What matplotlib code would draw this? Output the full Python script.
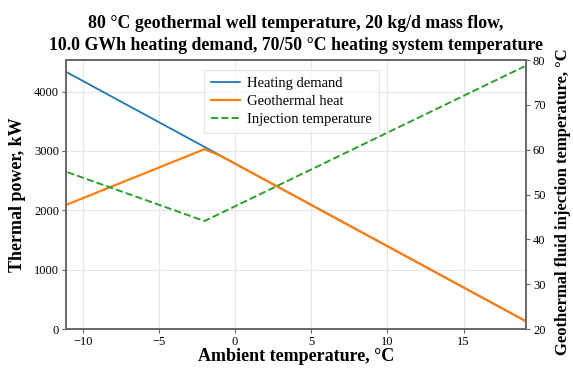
import matplotlib
matplotlib.use("Agg")
import matplotlib.pyplot as plt

plt.rcParams['font.family'] = ['Liberation Serif', 'DejaVu Serif']

# ambient temperature breakpoints, degC
demand_t = [-11, 19]
demand_kw = [4320, 145]
geo_t = [-11, -2, -1, 19]
geo_kw = [2100, 3030, 2924, 145]
inj_t = [-11, -2, 19]
inj_c = [55.0, 44.1, 78.6]

fig = plt.figure(figsize=(5.73, 3.71), dpi=100)
ax = fig.add_axes([0.115, 0.113, 0.803, 0.725])
ax2 = ax.twinx()

l1, = ax.plot(demand_t, demand_kw, color='#1f77b4', lw=1.3, label='Heating demand')
l2, = ax.plot(geo_t, geo_kw, color='#ff7f0e', lw=1.6, label='Geothermal heat')
l3, = ax2.plot(inj_t, inj_c, color='#2ca02c', lw=1.4, ls='--', label='Injection temperature')

ax.set_xlim(-11.1, 19.1)
ax.set_ylim(0, 4530)
ax2.set_ylim(20, 80)
ax.set_xticks([-10, -5, 0, 5, 10, 15])
ax.set_yticks([0, 1000, 2000, 3000, 4000])
ax.grid(True, color='#e6e6e6', lw=0.8)
ax.set_axisbelow(True)

for a in (ax, ax2):
    for s in a.spines.values():
        s.set_color('#666666')
        s.set_linewidth(1.2)
    a.tick_params(labelsize=9, color='#666666', length=3, width=0.8, pad=2)

ax.set_xlabel('Ambient temperature, °C', fontsize=13, fontweight='bold', labelpad=0)
ax.set_ylabel('Thermal power, kW', fontsize=13, fontweight='bold', labelpad=6)
ax2.set_ylabel('Geothermal fluid injection temperature, °C', fontsize=12, fontweight='bold')
ax2.yaxis.set_label_coords(1.062, 0.475)
ax.set_title('80 °C geothermal well temperature, 20 kg/d mass flow,\n'
             '10.0 GWh heating demand, 70/50 °C heating system temperature',
             fontsize=12.8, fontweight='bold', pad=7, linespacing=1.4)

leg = ax.legend(handles=[l1, l2, l3], loc='upper left', bbox_to_anchor=(0.285, 0.99),
                fontsize=10.5, frameon=True, fancybox=False, handlelength=2.0,
                borderpad=0.45, labelspacing=0.35, handletextpad=0.5)
leg.get_frame().set_edgecolor('#dddddd')
leg.get_frame().set_linewidth(0.8)

fig.savefig('out.png', dpi=100)
